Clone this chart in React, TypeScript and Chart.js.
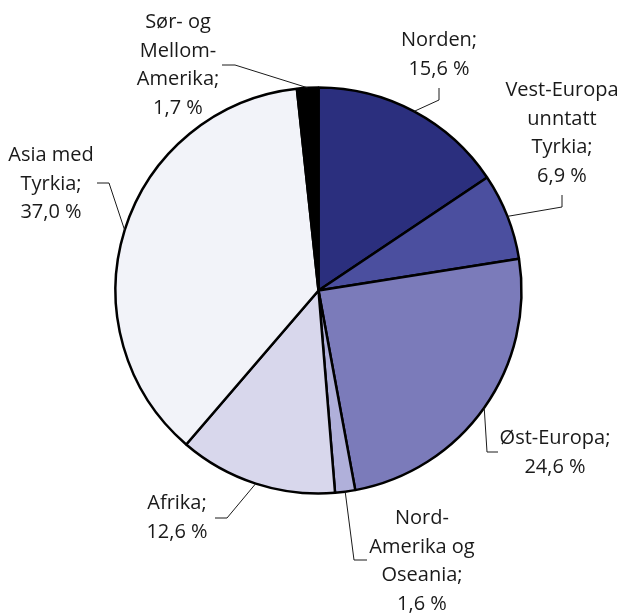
import React, { useEffect, useRef } from "react";
import { Chart, registerables } from "chart.js";

Chart.register(...registerables);

const categories = [
  "Norden",
  "Vest-Europa unntatt Tyrkia",
  "Øst-Europa",
  "Nord-Amerika og Oseania",
  "Afrika",
  "Asia med Tyrkia",
  "Sør- og Mellom-Amerika",
];
const labelLines = [
  ["Norden;"],
  ["Vest-Europa", "unntatt", "Tyrkia;"],
  ["Øst-Europa;"],
  ["Nord-", "Amerika og", "Oseania;"],
  ["Afrika;"],
  ["Asia med", "Tyrkia;"],
  ["Sør- og", "Mellom-", "Amerika;"],
];
const values = [15.6, 6.9, 24.6, 1.6, 12.6, 37.0, 1.7];
const colors = ["#2b2f7e", "#4b4f9f", "#7b7bba", "#b0b0da", "#d8d7ec", "#f2f3f9", "#000000"];

// label placement (layout only): text centre x, first line centre y, elbow points of leader
const labelLayout = [
  { cx: 439, y0: 40, leader: [[439, 88], [439, 100]] },
  { cx: 562, y0: 90, leader: [[562, 195], [562, 207]] },
  { cx: 555, y0: 438, leader: [[498, 452], [487, 452]] },
  { cx: 422, y0: 518, leader: [[367, 560], [354, 560]] },
  { cx: 177, y0: 503, leader: [[215, 518], [227, 518]] },
  { cx: 51, y0: 155, leader: [[97, 183], [109, 183]] },
  { cx: 178, y0: 22, leader: [[222, 65], [235, 65]] },
];

const fmt = (v: number) => v.toFixed(1).replace(".", ",") + " %";

const labelPlugin = {
  id: "outerLabels",
  afterDraw(chart: any) {
    const ctx = chart.ctx;
    const meta = chart.getDatasetMeta(0);
    ctx.save();
    meta.data.forEach((arc: any, i: number) => {
      const lay = labelLayout[i];
      const mid = (arc.startAngle + arc.endAngle) / 2;
      const px = arc.x + Math.cos(mid) * arc.outerRadius;
      const py = arc.y + Math.sin(mid) * arc.outerRadius;
      ctx.beginPath();
      ctx.strokeStyle = "#1a1a1a";
      ctx.lineWidth = 1;
      ctx.moveTo(lay.leader[0][0], lay.leader[0][1]);
      for (let k = 1; k < lay.leader.length; k++) ctx.lineTo(lay.leader[k][0], lay.leader[k][1]);
      ctx.lineTo(px, py);
      ctx.stroke();
      const lines = [...labelLines[i], fmt(values[i])];
      ctx.fillStyle = "#1a1a1a";
      ctx.font = '20px "Open Sans", "Noto Sans", sans-serif';
      ctx.textAlign = "center";
      ctx.textBaseline = "middle";
      lines.forEach((t, k) => ctx.fillText(t, lay.cx, lay.y0 + k * 28.8));
    });
    ctx.restore();
  },
};

export default function App() {
  const ref = useRef<HTMLCanvasElement>(null);
  useEffect(() => {
    const chart = new Chart(ref.current!, {
      type: "pie",
      data: {
        labels: categories,
        datasets: [
          {
            data: values,
            backgroundColor: colors,
            borderColor: "#000000",
            borderWidth: 2.5,
            borderAlign: "center",
          },
        ],
      },
      options: {
        responsive: false,
        animation: false,
        events: [],
        layout: { padding: { left: 114.25, right: 97.25, top: 86.25, bottom: 120.25 } },
        plugins: { legend: { display: false }, tooltip: { enabled: false } },
      },
      plugins: [labelPlugin],
    } as any);
    return () => chart.destroy();
  }, []);
  return (
    <div style={{ position: "fixed", left: 0, top: 0, width: 620, height: 615, background: "#fff" }}>
      <canvas ref={ref} width={620} height={615} style={{ display: "block" }} />
    </div>
  );
}
